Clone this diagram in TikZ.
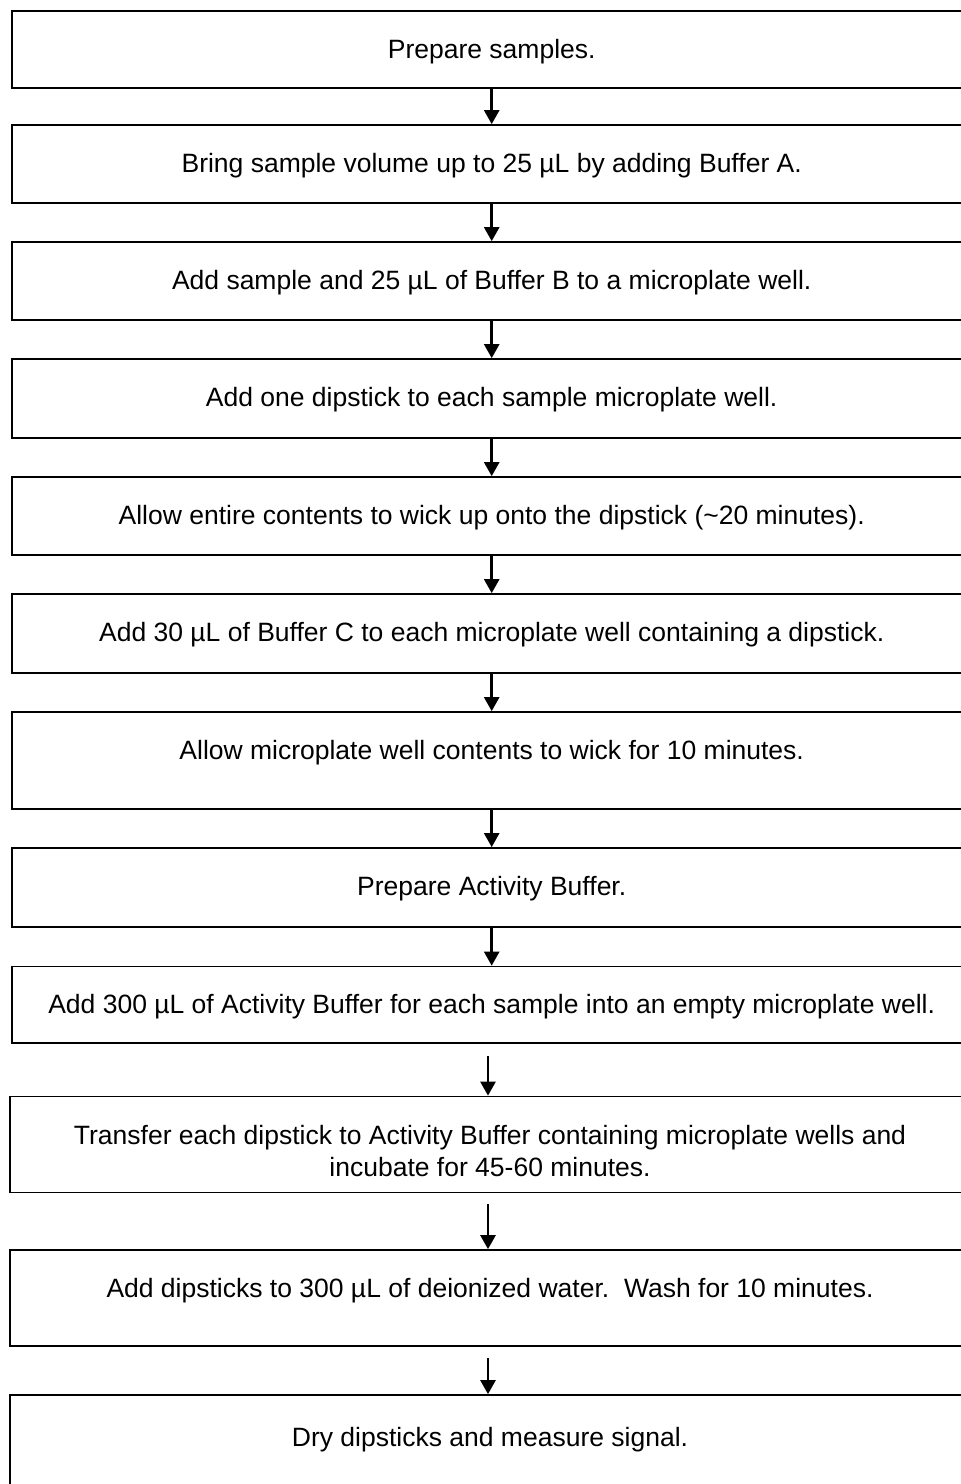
\documentclass[tikz,border=0pt]{standalone}
\usepackage{fontspec}
\setmainfont{Liberation Sans}
\usetikzlibrary{
    arrows.meta,
    positioning
}

\tikzset{
    stepbox/.style={draw, rectangle, line width=1.7pt, inner sep=0pt, minimum width=959.5pt},
    widebox/.style={stepbox, minimum width=956pt},
    steptext/.style={anchor=base, inner sep=0pt, align=center, font=\fontsize{26.5}{32}\selectfont},
    arr/.style={line width=2.5pt, -{Triangle[width=15pt, length=14pt]}}
}

\begin{document}
\begin{tikzpicture}[x=1pt, y=-1pt]
                                \useasboundingbox (0, 0) rectangle (961, 1484);
                                \node[stepbox, minimum height=77pt] (b1) at (491.7, 49.5) {};
                                \node[stepbox, minimum height=78pt] (b2) at (491.7, 164) {};
                                \node[stepbox, minimum height=78pt] (b3) at (491.7, 281) {};
                                \node[stepbox, minimum height=79pt] (b4) at (491.7, 398.5) {};
                                \node[stepbox, minimum height=78pt] (b5) at (491.7, 516) {};
                                \node[stepbox, minimum height=79pt] (b6) at (491.7, 633.5) {};
                                \node[stepbox, minimum height=97pt] (b7) at (491.7, 760.5) {};
                                \node[stepbox, minimum height=79pt] (b8) at (491.7, 887.5) {};
                                \node[stepbox, minimum height=76.5pt] (b9) at (491.7, 1004.75) {};
                                \node[widebox, minimum height=96pt] (b10) at (488, 1144.5) {};
                                \node[widebox, minimum height=96pt] (b11) at (488, 1298) {};
                                \node[widebox, minimum height=105pt] (b12) at (488, 1447.5) {};
                                \node[steptext] (t1) at (491.7, 58) {Prepare samples.};
                                \node[steptext] (t2) at (491.7, 172) {Bring sample volume up to 25 µL by adding Buffer A.};
                                \node[steptext] (t3) at (491.7, 289) {Add sample and 25 µL of Buffer B to a microplate well.};
                                \node[steptext] (t4) at (491.7, 406) {Add one dipstick to each sample microplate well.};
                                \node[steptext] (t5) at (491.7, 524) {Allow entire contents to wick up onto the dipstick (\textasciitilde20 minutes).};
                                \node[steptext] (t6) at (491.7, 641) {Add 30 µL of Buffer C to each microplate well containing a dipstick.};
                                \node[steptext] (t7) at (491.7, 759) {Allow microplate well contents to wick for 10 minutes.};
                                \node[steptext] (t8) at (491.7, 895) {Prepare Activity Buffer.};
                                \node[steptext] (t9) at (491.7, 1013.5) {Add 300 µL of Activity Buffer for each sample into an empty microplate well.};
                                \node[steptext] (t10) at (490, 1176) {Transfer each dipstick to Activity Buffer containing microplate wells and\\incubate for 45-60 minutes.};
                                \node[steptext] (t11) at (490, 1297) {Add dipsticks to 300 µL of deionized water.\ \ Wash for 10 minutes.};
                                \node[steptext] (t12) at (490, 1446) {Dry dipsticks and measure signal.};
                                \draw
                                (b1) edge[arr] (b2)
                                (b2) edge[arr] (b3)
                                (b3) edge[arr] (b4)
                                (b4) edge[arr] (b5)
                                (b5) edge[arr] (b6)
                                (b6) edge[arr] (b7)
                                (b7) edge[arr] (b8)
                                (b8) edge[arr] (b9);
                                \draw[arr] ([yshift=-12pt]b9.south -| b10.north) -- (b10.north);
                                \draw[arr] ([yshift=-11pt]b10.south) -- (b11.north);
                                \draw[arr] ([yshift=-11pt]b11.south) -- (b12.north);
                            \end{tikzpicture}
\end{document}
